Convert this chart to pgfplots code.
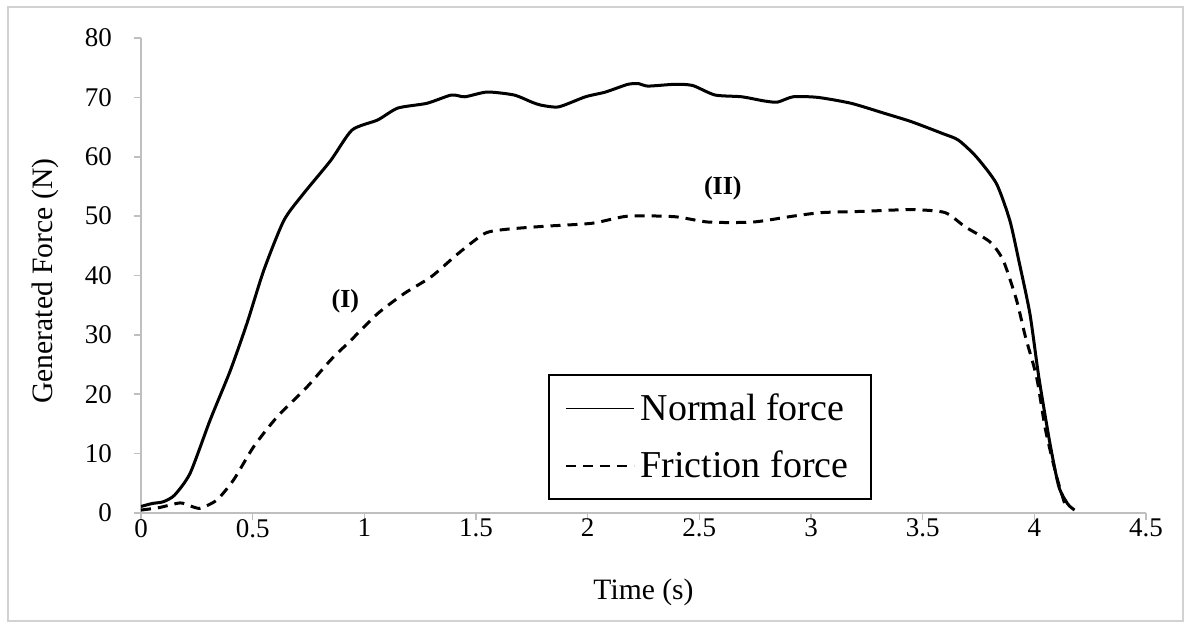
\documentclass[border=0pt]{standalone}
\usepackage{fontspec}
\setmainfont{Liberation Serif}
\usepackage{pgfplots}
\pgfplotsset{compat=1.18}
\definecolor{axgray}{RGB}{191,191,191}
\begin{document}
\begin{tikzpicture}
\useasboundingbox (-70.5pt,-54.5pt) rectangle (522.5pt,256.5pt);
\draw[color=axgray!70, line width=0.6pt] (-66.5pt,-54pt) rectangle (521pt,253pt);
\begin{axis}[
  at={(0pt,0pt)}, anchor=south west,
  scale only axis, width=502.5pt, height=237.5pt,
  xmin=0, xmax=4.5, ymin=0, ymax=80,
  axis x line*=bottom, axis y line*=left,
  axis line style={axgray, line width=0.8pt, -},
  xtick={0,0.5,...,4.5}, ytick={0,10,...,80},
  tick align=outside, major tick length=3.5pt,
  tick style={axgray, line width=0.8pt},
  /pgf/number format/assume math mode=true,
  ticklabel style={font=\fontsize{13.5}{15}\selectfont},
  xticklabel style={yshift=4pt},
  yticklabel style={xshift=-7.5pt},
  xlabel={Time (s)}, ylabel={Generated Force (N)},
  label style={font=\fontsize{14.8}{17}\selectfont},
  xlabel style={at={(axis description cs:0.5,-0.1663)}, anchor=center},
  ylabel style={at={(axis description cs:-0.0955,0.488)}, anchor=center},
  legend style={at={(0.405,0.0274)}, anchor=south west, draw=black, line width=1pt,
    font=\fontsize{19}{21}\selectfont, inner xsep=8pt, inner ysep=6pt,
    row sep=8pt, nodes={inner sep=3pt}},
  legend cell align=left,
  legend image code/.code={\draw[#1, line width=0.8pt] (0pt,0pt) -- (34pt,0pt);},
]
\addplot[black, line width=1.5pt, smooth, tension=0.4] coordinates {
(0,1.1) (0.05,1.6) (0.1,1.9) (0.15,3.0) (0.22,6.7) (0.31,15.7) (0.40,24) (0.475,32)
(0.55,40.9) (0.64,49.3) (0.73,53.9) (0.85,59.4) (0.945,64.5) (1.06,66.2) (1.15,68.2)
(1.28,69.0) (1.39,70.4) (1.45,70.1) (1.55,70.9) (1.67,70.4) (1.75,69.2) (1.79,68.7)
(1.87,68.4) (1.99,70.1) (2.08,70.9) (2.18,72.2) (2.23,72.3) (2.27,71.9) (2.39,72.2)
(2.47,72.0) (2.57,70.4) (2.69,70.1) (2.79,69.4) (2.85,69.2) (2.92,70.1) (3.03,70.0)
(3.18,69.0) (3.33,67.3) (3.45,65.9) (3.59,63.9) (3.66,62.8) (3.74,60.0) (3.83,55.5)
(3.89,49.3) (3.93,42.6) (3.98,33.6) (4.02,22.9) (4.07,11.7) (4.11,4.4) (4.15,1.5) (4.18,0.5)
};
\addlegendentry{Normal force}
\addplot[black, line width=1.5pt, dash pattern=on 5pt off 3.5pt, smooth, tension=0.4] coordinates {
(0,0.5) (0.08,0.9) (0.175,1.7) (0.22,1.2) (0.265,0.8) (0.34,2.2) (0.415,5.6) (0.505,11.2)
(0.61,16.2) (0.745,21.3) (0.85,25.8) (0.94,29.1) (1.06,33.6) (1.18,37.0) (1.30,39.8)
(1.42,43.7) (1.54,47.1) (1.64,47.8) (1.81,48.3) (2.02,48.8) (2.18,50.0) (2.39,49.9)
(2.54,49.0) (2.74,49.0) (2.92,50.0) (3.05,50.6) (3.23,50.8) (3.45,51.1) (3.60,50.6)
(3.69,48.2) (3.80,45.7) (3.86,42.6) (3.92,35.9) (3.96,29.7) (4.01,22.9) (4.05,14.0)
(4.10,6.1) (4.14,1.1)
};
\addlegendentry{Friction force}
\node[font=\fontsize{13}{15}\selectfont\bfseries] at (axis cs:0.915,35.6) {(I)};
\node[font=\fontsize{13}{15}\selectfont\bfseries] at (axis cs:2.605,54.7) {(II)};
\end{axis}
\end{tikzpicture}
\end{document}
